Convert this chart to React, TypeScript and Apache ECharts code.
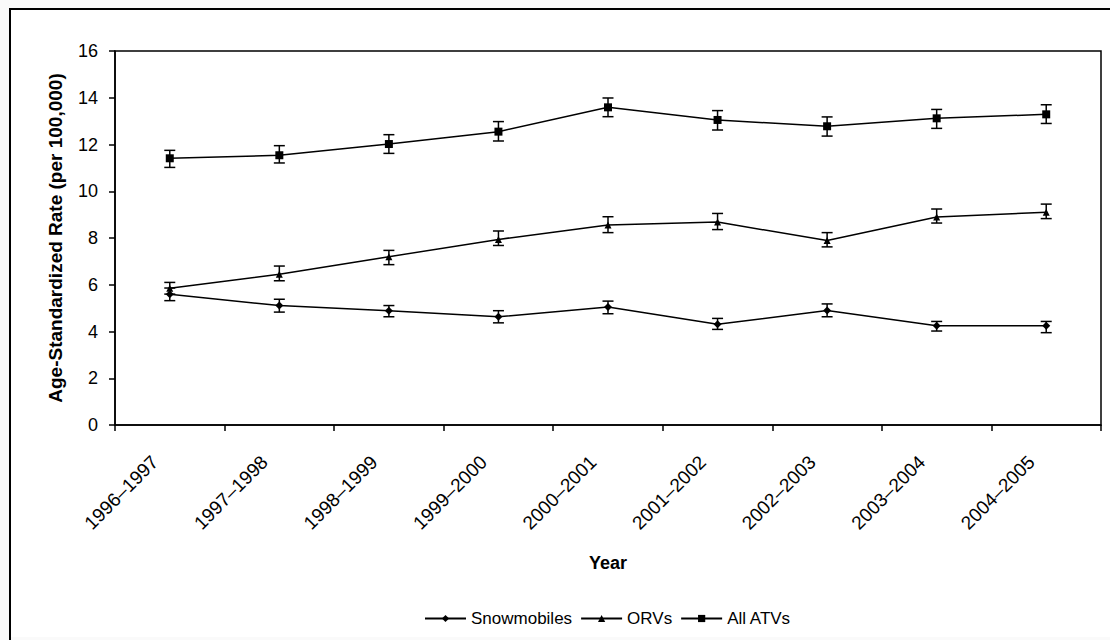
import React, { useEffect, useRef } from "react";
import * as echarts from "echarts";

const categories = [
  "1996\u20131997", "1997\u20131998", "1998\u20131999", "1999\u20132000", "2000\u20132001",
  "2001\u20132002", "2002\u20132003", "2003\u20132004", "2004\u20132005",
];

const snowmobiles = [5.59, 5.11, 4.89, 4.63, 5.05, 4.31, 4.9, 4.25, 4.25];
const snowLow = [5.32, 4.83, 4.63, 4.37, 4.76, 4.09, 4.63, 4.02, 3.95];
const snowHigh = [5.86, 5.38, 5.11, 4.89, 5.3, 4.56, 5.18, 4.43, 4.43];

const orvs = [5.85, 6.45, 7.2, 7.94, 8.56, 8.68, 7.89, 8.9, 9.1];
const orvLow = [5.6, 6.17, 6.86, 7.68, 8.23, 8.36, 7.62, 8.64, 8.83];
const orvHigh = [6.1, 6.8, 7.47, 8.3, 8.91, 9.05, 8.23, 9.24, 9.45];

const atvs = [11.41, 11.54, 12.02, 12.55, 13.59, 13.05, 12.78, 13.12, 13.29];
const atvLow = [11.02, 11.21, 11.62, 12.15, 13.19, 12.62, 12.36, 12.69, 12.9];
const atvHigh = [11.75, 11.95, 12.42, 12.98, 13.99, 13.45, 13.18, 13.5, 13.7];

const yTicks = { min: 0, max: 16, interval: 2 };

const FONT = "'Liberation Sans', Arial, sans-serif";

function errorSeries(low: number[], high: number[]) {
  return {
    type: "custom",
    silent: true,
    z: 1,
    renderItem: (params: any, api: any) => {
      const x = api.value(0);
      const lo = api.coord([x, api.value(1)]);
      const hi = api.coord([x, api.value(2)]);
      const hw = 5.5;
      const st = { stroke: "#000", lineWidth: 1.5 };
      return {
        type: "group",
        children: [
          { type: "line", shape: { x1: lo[0], y1: lo[1], x2: hi[0], y2: hi[1] }, style: st },
          { type: "line", shape: { x1: lo[0] - hw, y1: lo[1], x2: lo[0] + hw, y2: lo[1] }, style: st },
          { type: "line", shape: { x1: hi[0] - hw, y1: hi[1], x2: hi[0] + hw, y2: hi[1] }, style: st },
        ],
      };
    },
    encode: { x: 0, y: [1, 2] },
    data: low.map((l, i) => [i, l, high[i]]),
  };
}

function lineSeries(name: string, data: number[], symbol: string, size: number) {
  return {
    name,
    type: "line",
    data,
    symbol,
    symbolSize: size,
    showSymbol: true,
    z: 3,
    lineStyle: { color: "#000", width: 1.5 },
    itemStyle: { color: "#000" },
  };
}

export default function App() {
  const ref = useRef<HTMLDivElement>(null);
  useEffect(() => {
    document.body.style.margin = "0";
    if (!ref.current) return;
    const chart = echarts.init(ref.current, null, { renderer: "svg" });
    chart.setOption({
      animation: false,
      backgroundColor: "#fafafa",
      textStyle: { fontFamily: FONT, color: "#000" },
      graphic: [
        { type: "rect", z: -10, shape: { x: 10, y: 9, width: 1110, height: 628 }, style: { fill: "#fff" } },
        { type: "line", z: 100, shape: { x1: 10, y1: 8, x2: 10, y2: 640 }, style: { stroke: "#000", lineWidth: 2 } },
        { type: "line", z: 100, shape: { x1: 9, y1: 9, x2: 1110, y2: 9 }, style: { stroke: "#000", lineWidth: 2 } },
      ],
      grid: {
        left: 115,
        top: 51,
        right: 9,
        bottom: 215,
        show: true,
        borderColor: "#000",
        borderWidth: 1.5,
        backgroundColor: "transparent",
      },
      legend: {
        bottom: 8,
        left: 419,
        itemWidth: 41,
        itemHeight: 9,
        itemGap: 8,
        textStyle: { fontFamily: FONT, fontSize: 17, color: "#000" },
        data: ["Snowmobiles", "ORVs", "All ATVs"],
      },
      xAxis: {
        type: "category",
        data: categories,
        boundaryGap: true,
        name: "Year",
        nameLocation: "middle",
        nameGap: 129,
        nameTextStyle: { fontFamily: FONT, fontSize: 18, fontWeight: "bold", color: "#000" },
        axisLine: { lineStyle: { color: "#000", width: 1.5 } },
        axisTick: { show: true, length: 6, alignWithLabel: false, lineStyle: { color: "#000", width: 1.5 } },
        axisLabel: {
          rotate: 45,
          margin: 19,
          interval: 0,
          formatter: (v: string) => `{a|${v}}`,
          rich: {
            a: { fontFamily: FONT, fontSize: 19, color: "#000", padding: [0, 21, 0, 0] },
          },
        },
        splitLine: { show: false },
      },
      yAxis: {
        type: "value",
        min: yTicks.min,
        max: yTicks.max,
        interval: yTicks.interval,
        name: "Age-Standardized Rate (per 100,000)",
        nameLocation: "middle",
        nameGap: 50,
        nameTextStyle: { fontFamily: FONT, fontSize: 19, fontWeight: "bold", color: "#000" },
        axisLine: { show: true, lineStyle: { color: "#000", width: 1.5 } },
        axisTick: { show: true, length: 6, lineStyle: { color: "#000", width: 1.5 } },
        axisLabel: { margin: 17, fontFamily: FONT, fontSize: 18, color: "#000" },
        splitLine: { show: false },
      },
      series: [
        errorSeries(snowLow, snowHigh),
        errorSeries(orvLow, orvHigh),
        errorSeries(atvLow, atvHigh),
        lineSeries("Snowmobiles", snowmobiles, "diamond", 8),
        lineSeries("ORVs", orvs, "triangle", 7),
        lineSeries("All ATVs", atvs, "rect", 8),
      ],
    });
    return () => chart.dispose();
  }, []);
  return <div ref={ref} style={{ width: 1110, height: 640 }} />;
}
